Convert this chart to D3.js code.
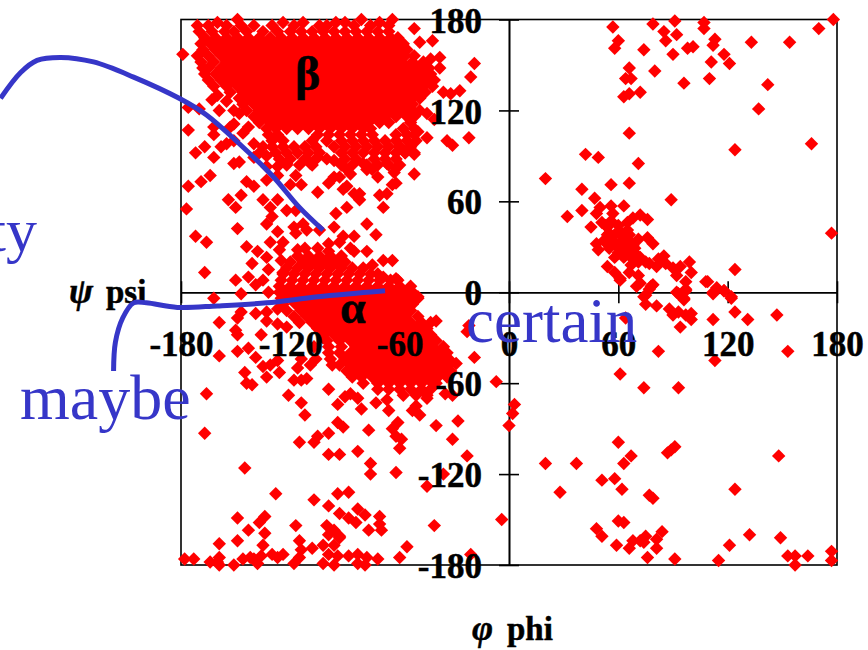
<!DOCTYPE html>
<html>
<head>
<meta charset="utf-8">
<script src="https://cdn.jsdelivr.net/npm/d3@7"></script>
<style>
  html, body { margin: 0; padding: 0; background: #fff; overflow: hidden; }
  text { font-family: "Liberation Serif", "Times New Roman", serif; }
  .axis line, .axis path { stroke: #000; stroke-width: 1.6; }
  .labels text { font-size: 35px; font-weight: bold; fill: #000; stroke: #000; stroke-width: 0.5; }
</style>
</head>
<body>
<script>
var ticks = [-180, -120, -60, 0, 60, 120, 180];

// beta region, each row is [psi, phi, phi, ...]
var betaRows = [
  [180, -149, -81, -64],
  [178, -160, -124, -113, -95, -90, -71],
  [176, -171, -165, -155, -147, -140, -130, -118, -104, -100, -85, -76, -66],
  [172, -170, -163, -156, -151, -144, -135, -127, -120, -114, -108, -102, -96, -90, -84, -78, -72, -66],
  [168, -167, -161, -155, -149, -143, -137, -131, -125, -119, -113, -107, -101, -95, -89, -83, -77, -71, -65, -61],
  [164, -169, -164, -158, -152, -146, -140, -134, -128, -122, -116, -110, -104, -98, -92, -86, -80, -74, -68, -62, -58],
  [160, -168, -161, -155, -149, -143, -137, -131, -125, -119, -113, -107, -101, -95, -89, -83, -77, -71, -65, -60, -56],
  [156, -171, -165, -158, -152, -146, -140, -134, -128, -122, -116, -110, -104, -98, -92, -86, -80, -74, -68, -62, -57, -52],
  [152, -169, -162, -155, -149, -143, -137, -131, -125, -119, -113, -107, -101, -95, -89, -83, -77, -71, -65, -59, -53, -47],
  [148, -168, -165, -158, -152, -146, -140, -134, -128, -122, -116, -110, -104, -98, -92, -86, -80, -74, -68, -62, -56, -50, -44],
  [144, -167, -161, -155, -149, -143, -137, -131, -125, -119, -113, -107, -101, -95, -89, -83, -77, -71, -65, -59, -53, -47, -43],
  [140, -165, -158, -152, -146, -140, -134, -128, -122, -116, -110, -104, -98, -92, -86, -80, -74, -68, -62, -56, -50, -44],
  [136, -162, -155, -149, -143, -137, -131, -125, -119, -113, -107, -101, -95, -89, -83, -77, -71, -65, -59, -53, -47, -42],
  [132, -153, -146, -140, -134, -128, -122, -116, -110, -104, -98, -92, -86, -80, -74, -68, -62, -56, -50, -46],
  [128, -148, -143, -137, -131, -125, -119, -113, -107, -101, -95, -89, -83, -77, -71, -65, -59, -53, -49],
  [124, -146, -140, -134, -128, -122, -116, -110, -104, -98, -92, -86, -80, -74, -68, -62, -56, -53],
  [120, -144, -137, -131, -125, -119, -113, -107, -101, -95, -89, -83, -77, -71, -65, -59, -53, -49],
  [116, -140, -134, -128, -122, -116, -110, -104, -98, -92, -86, -80, -74, -68, -62, -56, -52],
  [112, -137, -131, -125, -119, -113, -107, -101, -95, -89, -83, -77, -71, -66, -54],
  [108, -133, -128, -122, -116, -110, -104, -98, -92, -86, -80, -76, -58, -52],
  [104, -132, -127, -105, -99, -93, -87, -81, -75, -62, -56, -52],
  [100, -130, -124, -108, -100, -92, -86, -80, -74, -68, -62, -56],
  [96, -130, -124, -118, -112, -106, -96, -90, -84, -78, -72, -66, -60, -54],
  [92, -128, -122, -116, -110, -104, -92, -86, -80, -74, -68, -62, -57, -52],
  [88, -126, -120, -112, -106, -100, -90, -84, -74, -68, -62],
  [84, -122, -115, -108, -92, -86, -78, -72, -66, -60]
];

// alpha region, same row layout
var alphaRows = [
  [24, -116, -110, -104, -98, -92],
  [20, -120, -113, -107, -101, -95, -90],
  [16, -122, -116, -110, -104, -98, -92, -86, -80],
  [12, -124, -118, -112, -106, -100, -94, -88, -82, -76, -72],
  [8, -125, -119, -113, -107, -101, -95, -89, -83, -77, -71, -65, -61],
  [4, -126, -120, -114, -108, -102, -96, -90, -84, -78, -72, -66, -60, -54],
  [0, -126, -123, -117, -111, -105, -99, -93, -87, -81, -75, -69, -63, -57, -53],
  [-4, -125, -120, -114, -108, -102, -96, -90, -84, -78, -72, -66, -60, -54, -50],
  [-8, -124, -117, -111, -105, -99, -93, -87, -81, -75, -69, -63, -57, -53],
  [-12, -122, -114, -108, -102, -96, -90, -84, -78, -72, -66, -60, -54],
  [-16, -118, -111, -105, -99, -93, -87, -81, -75, -69, -63, -57, -50],
  [-20, -115, -108, -102, -96, -90, -84, -78, -72, -66, -60, -54, -48, -43],
  [-24, -105, -99, -93, -87, -81, -75, -69, -63, -57, -51, -45],
  [-28, -102, -96, -90, -84, -78, -72, -66, -60, -54, -48, -43],
  [-32, -100, -93, -87, -81, -75, -69, -63, -57, -51, -45, -40],
  [-36, -99, -92, -84, -78, -72, -66, -60, -54, -48, -42, -36],
  [-40, -99, -93, -87, -81, -75, -69, -63, -57, -51, -45, -39, -34],
  [-44, -98, -90, -84, -78, -72, -66, -60, -54, -48, -42, -36, -33],
  [-48, -97, -93, -87, -81, -75, -69, -63, -57, -51, -45, -39, -33],
  [-52, -89, -84, -78, -72, -66, -60, -54, -48, -42, -36, -32],
  [-56, -86, -81, -75, -69, -63, -57, -51, -45, -39, -34],
  [-60, -80, -72, -66, -60, -54, -48, -42, -40],
  [-64, -72, -66, -60, -54, -48, -43],
  [-68, -58, -51, -45]
];

// single points around the beta blob and between the two blobs
var bridgePoints = [
  [-179,157],[-176,122],[-176,107],[-162,104],[-167,96],[-172,92],[-162,89],[-158,96],[-151,85],[-148,86],
  [-176,70],[-169,73],[-164,77],[-144,73],[-140,70],[-154,61],[-147,64],[-150,56],[-177,55],[-172,37],
  [-166,33],[-149,42],[-167,13],[-150,8],[-144,30],[-143,10],[-139,5],[-135,8],[-141,19],[-138,27],
  [-133,23],[-132,15],[-162,109],[-159,120],[-151,120],[-170,121],[-153,109],[-146,105],[-155,98],[-151,100],
  [-140,89],[-133,90],[-133,74],[-135,61],[-131,56],[-127,61],[-122,54],[-117,54],[-130,50],[-133,45],
  [-120,71],[-117,77],[-114,71],[-127,77],[-105,66],[-99,72],[-96,76],[-89,81],[-89,70],[-85,65],
  [-82,61],[-82,65],[-89,56],[-95,52],[-69,56],[-71,64],[-67,65],[-64,71],[-62,72],[-52,78],
  [-78,81],[-72,76],[-62,82],[-67,85],[-57,92],[-52,91],[-78,45],[-73,38],[-96,43],[-104,41],
  [-113,45],[-118,43],[-117,39],[-111,41],[-127,40],[-131,33],[-124,33],[-85,37],[-91,37],[-93,33],
  [-99,32],[-99,27],[-87,29],[-85,27],[-78,27],[-69,21],[-64,21],[-75,18],[-69,10],[-62,9],
  [-54,1],[-50,-3],[-126,28],[-125,21],[-124,13],[-116,28],[-112,29],[-105,29],
  [-52,174],[-49,165],[-42,166],[-38,155],[-38,148],[-19,151],[-21,142],[-27,133],[-32,131],[-36,132],
  [-41,140],[-45,118],[-41,114],[-22,102],[-34,100],[-31,97],[-45,102],[-50,106],[-43,154],
  [-160,130],[-155,126],[-163,127],[-151,111],[-148,118],[-143,109],[-140,98],[-137,92],[-135,96],[-133,83],
  [-127,83],[-122,85],[-109,85],[-105,89],[-96,87],[-93,76],[-87,78],[-91,68],[-80,85],[-75,81],
  [-63,79],[-60,96],[-51,100]
];

// single points below the alpha blob
var lowerLeftPoints = [
  [-162,-4],[-147,-1],[-132,0],[-159,-20],[-147,-13],[-139,-14],[-149,-17],[-150,-25],[-149,-28],[-136,-28],
  [-159,-42],[-149,-39],[-143,-37],[-139,-43],[-133,-13],[-133,-19],[-127,-11],[-127,-21],[-122,-23],[-135,-49],
  [-131,-48],[-127,-45],[-126,-53],[-133,-56],[-145,-53],[-144,-60],[-141,-61],[-118,-58],[-114,-58],[-111,-57],
  [-116,-50],[-109,-48],[-106,-44],[-114,-44],[-107,-36],[-102,-30],[-166,-67],[-167,-93],[-121,-68],[-114,-73],
  [-112,-81],[-99,-64],[-94,-74],[-87,-67],[-90,-69],[-83,-70],[-81,-77],[-73,-73],[-67,-71],[-66,-78],
  [-53,-78],[-49,-81],[-51,-75],[-45,-70],[-35,-67],[-31,-68],[-29,-47],[-19,-43],[-7,-59],[-40,-19],
  [-23,-26],[-22,-22],[-94,-86],[-91,-89],[-99,-93],[-105,-95],[-107,-99],[-115,-99],[-77,-91],[-64,-90],
  [-61,-86],[-62,-95],[-59,-97],[-60,-103],[-40,-88],[-28,-85],[-31,-97],[-23,-108],[-99,-107],[-93,-107],
  [-83,-105],[-76,-113],[-76,-120],[-62,-119],[-145,-116],[-36,-120],[-45,-128],[-128,-133],[-107,-137],[-94,-133],
  [-88,-132],[-99,-141],[-93,-146],[-83,-143],[-79,-147],[-88,-149],[-84,-152],[-71,-148],[-71,-153],[-77,-157],
  [-70,-157],[-41,-154],[-4,-150],[-149,-149],[-134,-148],[-137,-152],[-143,-157],[-134,-159],[-117,-154],[-100,-154],
  [-99,-160],[-93,-161],[-96,-157],[-115,-164],[-149,-164],[-159,-166],[-135,-167],[-56,-168],[-60,-175],[-21,-173],
  [-72,-176],[-108,-169],[-102,-167],[-96,-167],[-93,-162],[-178,-176],[-173,-176],[-164,-178],[-159,-175],[-159,-180],
  [-151,-180],[-146,-176],[-142,-175],[-138,-179],[-136,-174],[-130,-173],[-127,-175],[-124,-173],[-118,-179],[-115,-175],
  [-114,-170],[-102,-179],[-99,-173],[-96,-180],[-94,-174],[-88,-174],[-83,-173],[-83,-179],[-79,-180],[-78,-175],
  [-160,-178],[-140,-176]
];

var upperRightPoints = [
  [57,175],[79,177],[91,179],[107,178],[107,174],[85,172],[92,170],[86,166],[60,166],[58,161],
  [74,160],[113,167],[112,163],[98,161],[101,162],[90,157],[118,157],[133,165],[154,165],[170,174],
  [178,180],[111,152],[121,151],[66,148],[80,146],[64,141],[67,141],[110,141],[96,138],[142,137],
  [63,129],[66,131],[72,132],[137,121],[66,105],[124,94],[166,98],[42,91],[49,89],[71,85],
  [20,75],[40,68],[56,71],[66,72],[89,61],[177,39],[47,62],[40,54],[32,50],[63,57],
  [56,57],[50,56],[48,52],[45,43],[57,52],[56,47],[51,46],[54,43],[65,46],[68,49],
  [72,51],[76,48],[48,32],[49,28],[55,39],[65,41],[71,35],[76,36],[79,32],[57,34],
  [62,34],[66,34],[55,29],[60,29],[65,29],[69,29],[58,23],[63,23],[67,23],[72,23],
  [61,40],[66,38],[54,38],[55,31],[52,34],[54,17],[58,13],[61,9],[66,13],[67,18],
  [71,20],[71,11],[72,6],[77,19],[81,17],[85,24],[86,19],[79,5],[75,-2],[77,2],
  [90,16],[94,17],[99,20],[100,13],[92,11],[97,7],[97,1],[93,-1],[96,-4],[124,15],
  [109,7],[114,3],[112,0],[118,1],[122,-3],
  [58,38],[62,37],[59,31],[63,31],[68,31],[60,26],[64,26],[69,26],[53,44],[60,44],[75,20],[82,22]
];

var lowerRightPoints = [
  [61,8],[74,-3],[75,-8],[81,-9],[70,4],[78,4],[88,-11],[90,-15],[93,-13],[97,-15],
  [100,-14],[100,-18],[94,-23],[96,-5],[92,0],[97,2],[108,7],[112,-1],[118,1],[122,-4],
  [124,-13],[131,-18],[147,-15],[112,-18],[64,-17],[82,-39],[113,-45],[153,-39],[61,-54],[74,-63],
  [93,-63],[3,-74],[2,-80],[0,-88],[60,-99],[91,-102],[89,-104],[87,-106],[67,-108],[63,-113],
  [20,-113],[37,-113],[148,-108],[51,-124],[58,-123],[62,-130],[28,-132],[124,-130],[77,-134],[79,-136],
  [60,-151],[63,-152],[48,-156],[51,-161],[84,-158],[75,-161],[81,-163],[72,-164],[68,-164],[74,-165],
  [59,-167],[66,-169],[81,-169],[76,-175],[91,-176],[115,-177],[121,-167],[132,-160],[149,-162],[153,-174],
  [157,-174],[157,-180],[164,-174],[177,-171],[177,-177]
];

// hand drawn blue annotation lines, in phi/psi
var curveTop = [[-279,128],[-268,145],[-259,153],[-246,155],[-228,152],[-206,142],[-181,128],[-166,117],[-148,98],[-130,77],[-115,56],[-102,41]];
var curveBottom = [[-217,-52],[-216,-33],[-212,-17],[-206,-7],[-199,-7],[-182,-10],[-160,-9],[-133,-7],[-105,-3],[-68,1]];

var svg = d3.select("body").append("svg")
    .attr("width", 868)
    .attr("height", 650);

var x = d3.scaleLinear().domain([-180, 180]).range([181, 837]);
var y = d3.scaleLinear().domain([-180, 180]).range([565, 19.5]);

function fromRows(rows) {
  return rows.flatMap(function(r) {
    return r.slice(1).map(function(phi) { return [phi, r[0]]; });
  });
}

// frame
svg.append("rect")
    .attr("x", x(-180))
    .attr("y", y(180))
    .attr("width", x(180) - x(-180))
    .attr("height", y(-180) - y(180))
    .attr("fill", "none")
    .attr("stroke", "#000")
    .attr("stroke-width", 1.6);

// ticks go both ways from the centre axes, so two axes each
var noLabel = function() { return ""; };
[d3.axisLeft(y), d3.axisRight(y)].forEach(function(a) {
  svg.append("g").attr("class", "axis")
      .attr("transform", "translate(" + x(0) + ",0)")
      .call(a.tickValues(ticks).tickSize(10).tickSizeOuter(0).tickFormat(noLabel));
});
[d3.axisTop(x), d3.axisBottom(x)].forEach(function(a) {
  svg.append("g").attr("class", "axis")
      .attr("transform", "translate(0," + y(0) + ")")
      .call(a.tickValues(ticks).tickSize(11).tickSizeOuter(0).tickFormat(noLabel));
});

// points
var points = fromRows(betaRows).concat(fromRows(alphaRows), bridgePoints, lowerLeftPoints, upperRightPoints, lowerRightPoints);
var diamond = d3.symbol().type(d3.symbolSquare).size(90);
svg.append("g").selectAll("path")
    .data(points)
  .enter().append("path")
    .attr("d", diamond)
    .attr("fill", "#ff0000")
    .attr("transform", function(d) {
      return "translate(" + x(d[0]) + "," + y(d[1]) + ") rotate(45)";
    });

// tick labels sit above the points, plain hyphen for the minus
var yLabels = svg.append("g").attr("class", "labels")
    .attr("transform", "translate(" + x(0) + ",0)")
    .call(d3.axisLeft(y).tickValues(ticks).tickSize(0).tickPadding(27).tickFormat(String));
yLabels.select(".domain").remove();
yLabels.selectAll("text").attr("dy", "0.36em");
var xLabels = svg.append("g").attr("class", "labels")
    .attr("transform", "translate(0," + y(0) + ")")
    .call(d3.axisBottom(x).tickValues(ticks).tickSize(0).tickPadding(39).tickFormat(String));
xLabels.select(".domain").remove();

// axis titles and region letters
function addTitle(xp, yp, txt, size, italic) {
  svg.append("text")
      .attr("x", xp)
      .attr("y", yp)
      .attr("font-size", size)
      .attr("font-weight", "bold")
      .attr("font-style", italic ? "italic" : "normal")
      .attr("stroke", "#000")
      .attr("stroke-width", 0.5)
      .text(txt);
}
addTitle(69, 303, "\u03c8", 36, true);
addTitle(106, 303, "psi", 33, false);
addTitle(472, 640, "\u03c6", 36, true);
addTitle(507, 640, "phi", 33, false);
addTitle(295, 90, "\u03b2", 48, false);
addTitle(340, 323, "\u03b1", 46, false);

// blue annotation
var blue = "#3636c8";
var line = d3.line()
    .x(function(d) { return x(d[0]); })
    .y(function(d) { return y(d[1]); })
    .curve(d3.curveCatmullRom);
[curveTop, curveBottom].forEach(function(c) {
  svg.append("path")
      .attr("d", line(c))
      .attr("fill", "none")
      .attr("stroke", blue)
      .attr("stroke-width", 5);
});
function addNote(xp, yp, txt, anchor, size) {
  svg.append("text")
      .attr("x", xp)
      .attr("y", yp)
      .attr("font-size", size)
      .attr("fill", blue)
      .attr("text-anchor", anchor)
      .text(txt);
}
addNote(37, 251, "ty", "end", 62);
addNote(20, 419, "maybe", "start", 64);
addNote(466, 342, "certain", "start", 63);
</script>
</body>
</html>
